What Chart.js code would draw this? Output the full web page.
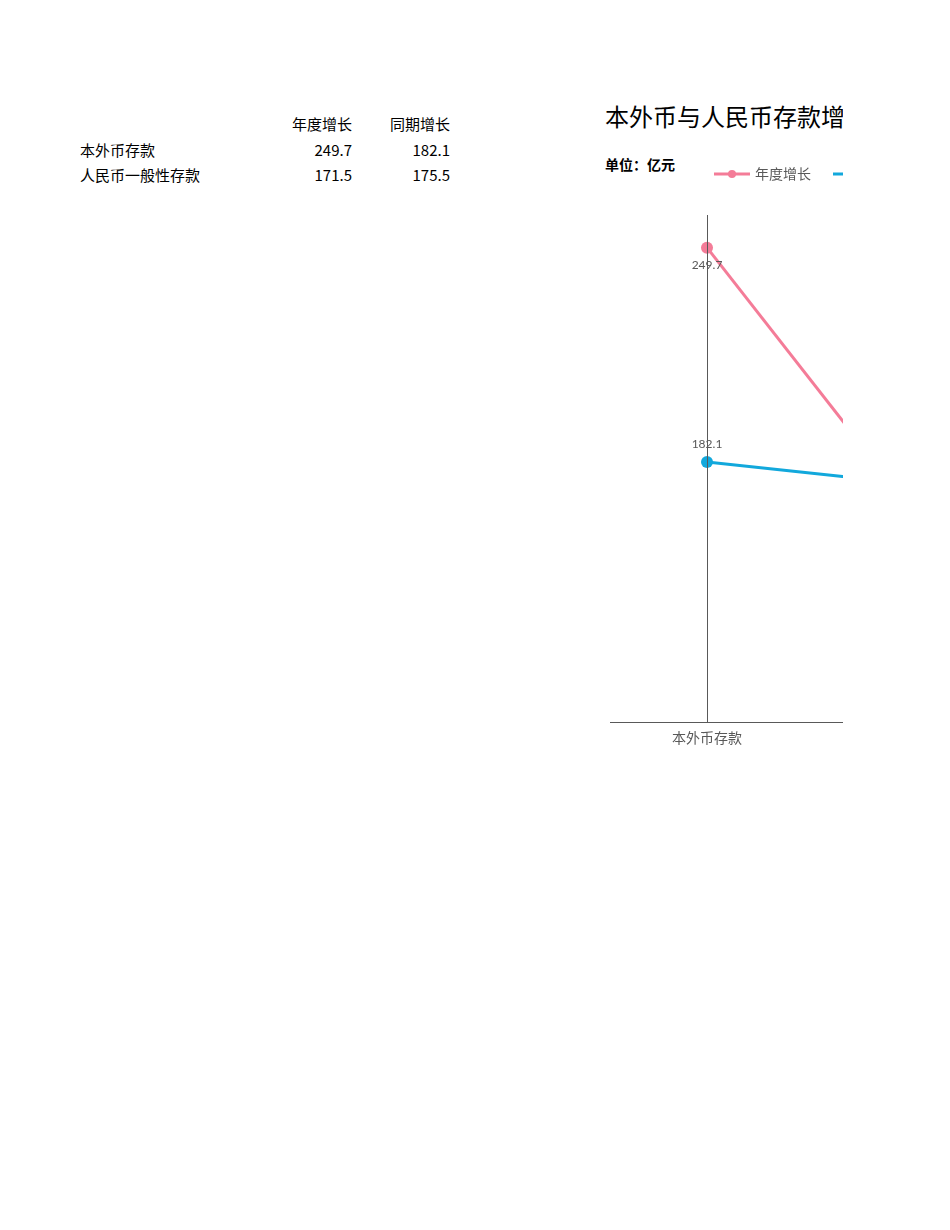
<!DOCTYPE html>
<html>
<head>
<meta charset="utf-8">
<script src="https://cdn.jsdelivr.net/npm/chart.js@4/dist/chart.umd.min.js"></script>
<style>
  body { margin: 0; background: #fff; font-family: "Noto Sans CJK SC", sans-serif; }
  #page { position: absolute; left: 0; top: 0; width: 843px; height: 1230px; overflow: hidden; }
  .cell { position: absolute; font-size: 15px; line-height: 15px; color: #000; white-space: nowrap; }
  .num { text-align: right; width: 90px; }
  #title { position: absolute; left: 605px; top: 104px; font-size: 24px; line-height: 24px; white-space: nowrap; color: #000; }
  #unit { position: absolute; left: 605px; top: 157px; font-size: 14px; line-height: 14px; font-weight: bold; color: #000; white-space: nowrap; }
  #wrap { position: absolute; left: 598px; top: 143px; width: 450px; height: 610px; }
</style>
</head>
<body>
<div id="page">
  <div id="table"></div>
  <div id="title">本外币与人民币存款增长情况</div>
  <div id="unit">单位：亿元</div>
  <div id="wrap"><canvas id="canvas"></canvas></div>
</div>
<script>
// data
var categories = ['本外币存款', '人民币一般性存款'];
var seriesNames = ['年度增长', '同期增长'];
var yearGrowth = [249.7, 171.5];
var periodGrowth = [182.1, 175.5];
var colors = ['#F47C98', '#12A8DC'];

// table on the left
var tbl = document.getElementById('table');
function cell(text, x, y, right) {
    var d = document.createElement('div');
    d.className = 'cell' + (right ? ' num' : '');
    d.textContent = text;
    d.style.left = (right ? x - 90 : x) + 'px';
    d.style.top = (y - 8) + 'px';
    tbl.appendChild(d);
}
cell(seriesNames[0], 352, 124, true);
cell(seriesNames[1], 450, 124, true);
categories.forEach(function (c, i) {
    var y = 150 + i * 25;
    cell(c, 80, y, false);
    cell(yearGrowth[i].toFixed(1), 352, y, true);
    cell(periodGrowth[i].toFixed(1), 450, y, true);
});

// legend marker: line with a dot
function legendImage(color) {
    var c = document.createElement('canvas');
    c.width = 36; c.height = 12;
    var g = c.getContext('2d');
    g.strokeStyle = color; g.lineWidth = 3;
    g.beginPath(); g.moveTo(0, 6); g.lineTo(36, 6); g.stroke();
    g.fillStyle = color;
    g.beginPath(); g.arc(18, 6, 4, 0, Math.PI * 2); g.fill();
    return c;
}

var valueLabels = {
    id: 'valueLabels',
    afterDatasetsDraw: function (chart) {
        var ctx = chart.ctx;
        ctx.save();
        ctx.font = '12px Lato, "Noto Sans CJK SC"';
        ctx.fillStyle = '#595959';
        ctx.textAlign = 'center';
        ctx.textBaseline = 'middle';
        chart.data.datasets.forEach(function (ds, di) {
            chart.getDatasetMeta(di).data.forEach(function (pt, i) {
                var dy = di === 0 ? 17 : -18;
                ctx.fillText(ds.data[i].toFixed(1), pt.x, pt.y + dy);
            });
        });
        ctx.restore();
    }
};

var config = {
    type: 'line',
    data: {
        labels: categories,
        datasets: [
            { label: seriesNames[0], data: yearGrowth, borderColor: colors[0], backgroundColor: colors[0],
              borderWidth: 3, pointRadius: 6, pointHoverRadius: 6, pointBorderWidth: 0, fill: false },
            { label: seriesNames[1], data: periodGrowth, borderColor: colors[1], backgroundColor: colors[1],
              borderWidth: 3, pointRadius: 6, pointHoverRadius: 6, pointBorderWidth: 0, fill: false }
        ]
    },
    options: {
        responsive: true,
        maintainAspectRatio: false,
        animation: false,
        layout: { padding: { left: 12, right: 12, top: 0, bottom: 0 } },
        plugins: {
            tooltip: { enabled: false },
            legend: {
                position: 'top',
                labels: {
                    usePointStyle: true,
                    pointStyleWidth: 32,
                    color: '#595959',
                    font: { size: 14, family: '"Noto Sans CJK SC"' },
                    padding: 24,
                    generateLabels: function (chart) {
                        return chart.data.datasets.map(function (ds, i) {
                            return { text: ds.label, pointStyle: legendImage(colors[i]), fontColor: '#595959',
                                     strokeStyle: colors[i], fillStyle: colors[i], lineWidth: 0, datasetIndex: i };
                        });
                    }
                }
            }
        },
        scales: {
            x: {
                offset: true,
                grid: { display: false, drawTicks: false },
                border: { color: '#595959', width: 1 },
                ticks: { color: '#595959', font: { size: 14, family: '"Noto Sans CJK SC"' }, padding: 7, maxRotation: 0 }
            },
            xTop: {
                type: 'category',
                position: 'top',
                grid: { display: false },
                border: { display: false },
                ticks: { display: false },
                afterFit: function (s) { s.height = 24; }
            },
            y: {
                position: { x: 0 },
                min: 100,
                max: 260,
                grid: { display: false },
                border: { color: '#595959', width: 1, z: 1 },
                ticks: { display: false, stepSize: 20 }
            },
            y2: {
                position: 'right',
                min: 100,
                max: 260,
                grid: { display: false },
                border: { display: false },
                ticks: { display: false },
                afterFit: function (s) { s.width = 38; }
            }
        }
    },
    plugins: [valueLabels]
};

window.onload = function () {
    var ctx = document.getElementById('canvas').getContext('2d');
    window.myLine = new Chart(ctx, config);
};
</script>
</body>
</html>
